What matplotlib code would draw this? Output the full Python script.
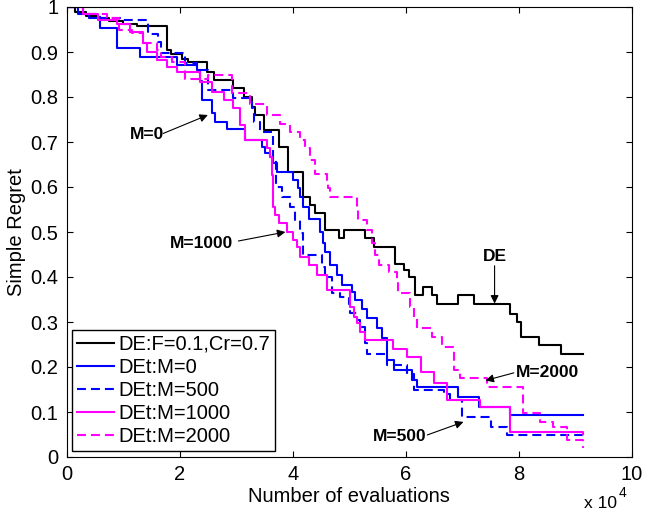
import matplotlib
matplotlib.use('Agg')
import matplotlib.pyplot as plt
from matplotlib.ticker import FuncFormatter

plt.rcParams['font.family'] = ['Liberation Sans', 'DejaVu Sans']

# x values in units of 10^4 evaluations (step breakpoints), y = simple regret
de_x = [0, 0.15, 0.35, 0.55, 0.75, 1.0, 1.25, 1.77, 1.85, 2.05, 2.15, 2.48, 2.6, 2.95, 3.13, 3.28, 3.34,
        3.5, 3.76, 3.91, 4.19, 4.31, 4.4, 4.57, 4.81, 4.9, 5.27, 5.43, 5.81, 5.96, 6.05, 6.16, 6.31,
        6.46, 6.55, 6.93, 7.2, 7.85, 7.97, 8.03, 8.36, 8.74, 9.14]
de_y = [1.0, 0.99, 0.98, 0.975, 0.97, 0.962, 0.958, 0.904, 0.895, 0.885, 0.878, 0.856, 0.838, 0.82, 0.80,
        0.778, 0.76, 0.727, 0.69, 0.634, 0.578, 0.56, 0.542, 0.504, 0.487, 0.504, 0.487, 0.467, 0.43,
        0.415, 0.40, 0.36, 0.378, 0.36, 0.341, 0.36, 0.341, 0.318, 0.30, 0.267, 0.249, 0.23, 0.23]

m0_x = [0, 0.2, 0.4, 0.59, 0.89, 1.30, 1.95, 2.30, 2.36, 2.39, 2.57, 2.63, 2.84, 3.16, 3.45, 3.51,
        3.6, 3.66, 3.72, 4.01, 4.1, 4.13, 4.19, 4.28, 4.49, 4.54, 4.58, 4.66, 4.78, 4.87, 5.05, 5.1,
        5.22, 5.31, 5.49, 5.58, 5.67, 5.8, 6.11, 6.2, 6.93, 7.3, 7.85, 9.14]
m0_y = [1.0, 0.985, 0.975, 0.953, 0.909, 0.89, 0.871, 0.86, 0.835, 0.793, 0.764, 0.745, 0.73,
        0.704, 0.69, 0.675, 0.667, 0.653, 0.634, 0.616, 0.597, 0.578, 0.556, 0.53, 0.50, 0.475, 0.456,
        0.427, 0.404, 0.382, 0.367, 0.349, 0.33, 0.308, 0.286, 0.264, 0.216, 0.193, 0.171, 0.156,
        0.134, 0.112, 0.093, 0.093]

m500_x = [0, 0.3, 0.6, 1.0, 1.45, 1.62, 1.67, 2.1, 2.3, 2.5, 2.95, 3.28, 3.31, 3.42, 3.66, 3.71, 3.81,
          3.96, 4.04, 4.13, 4.19, 4.52, 4.58, 4.69, 4.84, 4.99, 5.02, 5.14, 5.19, 5.28, 5.31, 5.67,
          6.02, 6.14, 6.67, 6.79, 6.99, 7.5, 7.79, 9.14]
m500_y = [1.0, 0.985, 0.975, 0.971, 0.941, 0.923, 0.898, 0.875, 0.86, 0.816, 0.797, 0.775, 0.745, 0.723,
          0.664, 0.60, 0.578, 0.556, 0.527, 0.497, 0.449, 0.423, 0.40, 0.364, 0.356, 0.341, 0.319,
          0.304, 0.29, 0.253, 0.23, 0.204, 0.185, 0.149, 0.141, 0.127, 0.09, 0.067, 0.049, 0.045]

m1000_x = [0, 0.3, 0.55, 0.89, 1.12, 1.36, 1.42, 1.6, 1.77, 1.95, 2.36, 2.57, 2.78, 2.95, 3.07, 3.16,
           3.54, 3.6, 3.63, 3.66, 3.69, 3.75, 3.9, 4.01, 4.07, 4.13, 4.28, 4.43, 4.6, 5.02, 5.08, 5.14,
           5.19, 5.28, 5.78, 6.02, 6.26, 6.49, 6.73, 7.32, 7.85, 9.14]
m1000_y = [1.0, 0.985, 0.972, 0.963, 0.945, 0.919, 0.90, 0.882, 0.867, 0.856, 0.834, 0.812, 0.793, 0.775,
           0.738, 0.704, 0.686, 0.667, 0.627, 0.556, 0.538, 0.519, 0.50, 0.482, 0.467, 0.445, 0.427,
           0.404, 0.371, 0.334, 0.312, 0.297, 0.278, 0.26, 0.241, 0.223, 0.19, 0.164, 0.127, 0.112,
           0.056, 0.052]

m2000_x = [0, 0.3, 0.71, 0.92, 1.15, 1.36, 1.6, 1.67, 1.86, 2.1, 2.5, 2.92, 3.25, 3.54, 3.78, 3.96, 4.13,
           4.22, 4.31, 4.4, 4.6, 4.63, 4.66, 5.14, 5.16, 5.31, 5.4, 5.46, 5.52, 5.7, 5.84, 5.87, 6.08,
           6.14, 6.2, 6.46, 6.64, 6.85, 6.96, 7.44, 8.08, 8.38, 8.61, 8.85, 9.14]
m2000_y = [1.0, 0.985, 0.975, 0.948, 0.942, 0.919, 0.905, 0.89, 0.878, 0.841, 0.849, 0.81, 0.785, 0.76,
           0.741, 0.723, 0.704, 0.686, 0.66, 0.63, 0.616, 0.597, 0.578, 0.556, 0.527, 0.504, 0.475,
           0.449, 0.427, 0.412, 0.386, 0.364, 0.334, 0.308, 0.286, 0.267, 0.245, 0.193, 0.175, 0.156,
           0.097, 0.078, 0.067, 0.038, 0.02]

labels = ['DE:F=0.1,Cr=0.7', 'DEt:M=0', 'DEt:M=500', 'DEt:M=1000', 'DEt:M=2000']

fig = plt.figure(figsize=(6.45, 5.18), dpi=100)
ax = fig.add_axes([66.5 / 645, 1 - 457 / 518, (632 - 66.5) / 645, 450 / 518])

lw = 1.5
dash = (4.3, 2.4)
ax.plot(de_x, de_y, drawstyle='steps-post', color='black', lw=lw, label=labels[0])
ax.plot(m0_x, m0_y, drawstyle='steps-post', color='#0000ff', lw=lw, label=labels[1])
ax.plot(m500_x, m500_y, drawstyle='steps-post', color='#0000ff', lw=lw, dashes=dash, label=labels[2])
ax.plot(m1000_x, m1000_y, drawstyle='steps-post', color='#ff00ff', lw=lw, label=labels[3])
ax.plot(m2000_x, m2000_y, drawstyle='steps-post', color='#ff00ff', lw=lw, dashes=dash, label=labels[4])

ax.set_xlim(0, 10)
ax.set_ylim(0, 1)
ax.set_xticks([0, 2, 4, 6, 8, 10])
ax.set_yticks([i / 10 for i in range(11)])
fmt = FuncFormatter(lambda v, p: '%g' % round(v, 3))
ax.xaxis.set_major_formatter(fmt)
ax.yaxis.set_major_formatter(fmt)
ax.tick_params(direction='in', top=True, right=True, length=4, width=0.8, labelsize=14.5, pad=6)
for s in ax.spines.values():
    s.set_linewidth(0.8)

ax.set_xlabel('Number of evaluations', fontsize=14.5, labelpad=2)
ax.set_ylabel('Simple Regret', fontsize=14.5, labelpad=3)

fig.text(617 / 645, 1 - 503 / 518, 'x 10', fontsize=12.5, ha='right', va='center')
fig.text(619 / 645, 1 - 493 / 518, '4', fontsize=10, ha='left', va='center')

leg = ax.legend(loc='lower left', bbox_to_anchor=(0.009, 0.014), borderaxespad=0, fontsize=14.5,
                handlelength=1.84, handletextpad=0.23, labelspacing=0.2, borderpad=0.25,
                fancybox=False, framealpha=1, edgecolor='black')
leg.get_frame().set_linewidth(1.0)

ap = dict(arrowstyle='-|>', color='black', lw=0.8, mutation_scale=12, shrinkA=0, shrinkB=0)
tk = dict(fontsize=12.5, fontweight='bold', ha='center', va='center')

ax.text(1.42, 0.716, 'M=0', **tk)
ax.annotate('', xy=(2.5, 0.76), xytext=(1.71, 0.719), arrowprops=ap)

ax.text(2.39, 0.475, 'M=1000', **tk)
ax.annotate('', xy=(3.87, 0.50), xytext=(3.04, 0.48), arrowprops=ap)

ax.text(7.57, 0.446, 'DE', **tk)
ax.annotate('', xy=(7.57, 0.341), xytext=(7.57, 0.425), arrowprops=ap)

ax.text(8.5, 0.187, 'M=2000', **tk)
ax.annotate('', xy=(7.41, 0.17), xytext=(7.91, 0.187), arrowprops=ap)

ax.text(5.9, 0.045, 'M=500', **tk)
ax.annotate('', xy=(7.02, 0.078), xytext=(6.38, 0.049), arrowprops=ap)

fig.savefig('out.png', dpi=100)
